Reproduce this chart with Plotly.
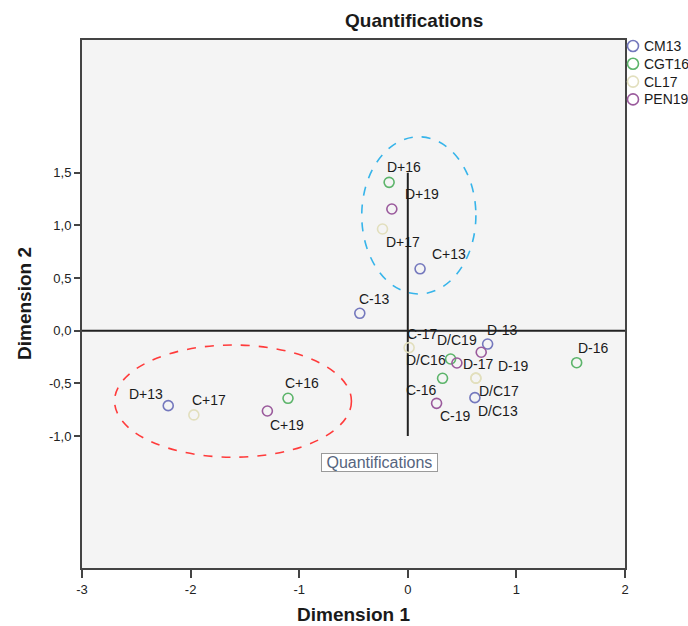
import plotly.graph_objects as go

# ---------------- data ----------------
series_names = ["CM13", "CGT16", "CL17", "PEN19"]

cm13_labels = ["D+13", "C+13", "C-13", "D-13", "D/C13"]
cm13_x = [-2.206, 0.113, -0.442, 0.735, 0.618]
cm13_y = [-0.712, 0.588, 0.165, -0.127, -0.636]

cgt16_labels = ["D+16", "C+16", "D-16", "C-16", "D/C16"]
cgt16_x = [-0.172, -1.103, 1.555, 0.320, 0.394]
cgt16_y = [1.409, -0.642, -0.304, -0.452, -0.269]

cl17_labels = ["D+17", "C+17", "C-17", "D-17", "D/C17"]
cl17_x = [-0.233, -1.970, 0.012, 0.627, 0.627]
cl17_y = [0.966, -0.800, -0.161, -0.451, -0.451]

pen19_labels = ["D+19", "C+19", "C-19", "D-19", "D/C19"]
pen19_x = [-0.147, -1.293, 0.265, 0.452, 0.676]
pen19_y = [1.156, -0.763, -0.690, -0.307, -0.205]

x_ticks = [-3, -2, -1, 0, 1, 2]
x_tick_text = ["-3", "-2", "-1", "0", "1", "2"]
y_ticks = [-1.0, -0.5, 0.0, 0.5, 1.0, 1.5]
y_tick_text = ["-1,0", "-0,5", "0,0", "0,5", "1,0", "1,5"]

x_range = [-3, 2]
y_range = [-2.254, 2.761]

# reference axes drawn inside the plot
vline_x = 0.0
vline_y = [-1.0, 1.5]
hline_y = 0.0

# highlighted groups (ellipses): x0, x1, y0, y1
blue_group = [-0.424, 0.627, 0.349, 1.842]
red_group = [-2.700, -0.519, -1.202, -0.136]

box_label = "Quantifications"
box_pos = [-0.261, -1.253]

# ---------------- styles ----------------
colors = {"CM13": "#7478bd", "CGT16": "#5cb46a", "CL17": "#e2dfbd", "PEN19": "#9a5a9c"}

# pixel offsets of the point labels (dx right, dy down)
label_offsets = {
    "D+16": (15, -15), "D+19": (30, -15), "D+17": (20, 13), "C+13": (29, -15),
    "C-13": (15, -14), "D+13": (-22, -12), "C+17": (15, -15), "C+16": (14, -15),
    "C+19": (20, 14), "C-17": (13, -14), "D-13": (15, -14), "D/C19": (-24, -12),
    "D/C16": (-25, 1), "D-19": (57, 3), "D-17": (3, -14), "D/C17": (23, 13),
    "C-16": (-21, 12), "D/C13": (23, 13), "C-19": (19, 13), "D-16": (17, -15),
}

FONT = "Liberation Sans, Arial, sans-serif"
NARROW = "Liberation Sans Narrow, Arial Narrow, Liberation Sans, sans-serif"
TXT = "#1a1a1a"

W, H = 688, 626
PL, PR, PT, PB = 82, 625, 40, 568  # plot area in window pixels

# legend layout (window pixels)
LEG_SYMBOL_X = 633
LEG_TEXT_X = 642
LEG_TOP_Y = 46
LEG_STEP = 17.8


def px_x(px):
    return (px - PL) / (PR - PL)


def px_y(py):
    return (PB - py) / (PB - PT)


fig = go.Figure()

all_series = [
    ("CM13", cm13_x, cm13_y, cm13_labels),
    ("CGT16", cgt16_x, cgt16_y, cgt16_labels),
    ("CL17", cl17_x, cl17_y, cl17_labels),
    ("PEN19", pen19_x, pen19_y, pen19_labels),
]

annotations = []
for name, xs, ys, labs in all_series:
    fig.add_trace(go.Scatter(
        x=xs, y=ys, mode="markers", name=name, text=labs, showlegend=False,
        marker=dict(symbol="circle-open", size=10, color=colors[name],
                    line=dict(width=1.6, color=colors[name])),
        hoverinfo="text+x+y",
    ))
    for lx, ly, lt in zip(xs, ys, labs):
        dx, dy = label_offsets[lt]
        annotations.append(dict(
            x=lx, y=ly, xref="x", yref="y", text=lt, showarrow=False,
            xshift=dx, yshift=-dy, font=dict(family=FONT, size=14, color=TXT),
        ))

shapes = [
    dict(type="line", xref="paper", yref="y", x0=0, x1=1, y0=hline_y, y1=hline_y,
         line=dict(color="#222222", width=2), layer="below"),
    dict(type="line", xref="x", yref="y", x0=vline_x, x1=vline_x, y0=vline_y[0], y1=vline_y[1],
         line=dict(color="#222222", width=2), layer="below"),
    dict(type="circle", xref="x", yref="y", x0=blue_group[0], x1=blue_group[1],
         y0=blue_group[2], y1=blue_group[3], line=dict(color="#36b4ea", width=1.6, dash="dash")),
    dict(type="circle", xref="x", yref="y", x0=red_group[0], x1=red_group[1],
         y0=red_group[2], y1=red_group[3], line=dict(color="#ff3b3b", width=1.6, dash="dash")),
]

# legend (symbols + names) to the right of the frame
for i, name in enumerate(series_names):
    cy = LEG_TOP_Y + i * LEG_STEP
    shapes.append(dict(type="circle", xref="paper", yref="paper",
                       xsizemode="pixel", ysizemode="pixel",
                       xanchor=px_x(LEG_SYMBOL_X), yanchor=px_y(cy),
                       x0=-5.5, x1=5.5, y0=-5.5, y1=5.5,
                       line=dict(color=colors[name], width=1.6)))
    annotations.append(dict(x=px_x(LEG_TEXT_X), y=px_y(cy), xref="paper", yref="paper",
                            text=name, showarrow=False, xanchor="left", yanchor="middle",
                            font=dict(family=NARROW, size=14, color=TXT)))

annotations.append(dict(
    x=box_pos[0], y=box_pos[1], xref="x", yref="y", text="&nbsp;" + box_label + "&nbsp;",
    showarrow=False, font=dict(family=FONT, size=16, color="#56657e"), bgcolor="white",
    bordercolor="#9a9a9a", borderwidth=1, borderpad=0,
))

# title and axis titles
annotations.append(dict(x=px_x(414), y=px_y(20.7), xref="paper", yref="paper",
                        text="<b>Quantifications</b>", showarrow=False,
                        font=dict(family=FONT, size=19, color=TXT),
                        xanchor="center", yanchor="middle"))
annotations.append(dict(x=0.5, y=px_y(614), xref="paper", yref="paper",
                        text="<b>Dimension 1</b>", showarrow=False,
                        font=dict(family=FONT, size=19, color=TXT),
                        xanchor="center", yanchor="middle"))
annotations.append(dict(x=px_x(24), y=0.5, xref="paper", yref="paper",
                        text="<b>Dimension 2</b>", showarrow=False, textangle=-90,
                        font=dict(family=FONT, size=19, color=TXT),
                        xanchor="center", yanchor="middle"))

fig.update_layout(
    width=W, height=H,
    margin=dict(l=PL, r=W - PR, t=PT, b=H - PB, autoexpand=False),
    paper_bgcolor="white", plot_bgcolor="#f4f4f4",
    showlegend=False,
    shapes=shapes, annotations=annotations,
    font=dict(family=FONT),
)
fig.update_xaxes(range=x_range, tickvals=x_ticks, ticktext=x_tick_text, showgrid=False,
                 zeroline=False, showline=True, linecolor="#444444", linewidth=2, mirror=True,
                 ticks="outside", ticklen=8, tickwidth=2, tickcolor="#444444",
                 tickfont=dict(family=FONT, size=13, color="#222222"))
fig.update_yaxes(range=y_range, tickvals=y_ticks, ticktext=y_tick_text, showgrid=False,
                 zeroline=False, showline=True, linecolor="#444444", linewidth=2, mirror=True,
                 ticks="outside", ticklen=6, tickwidth=2, tickcolor="#444444",
                 tickfont=dict(family=FONT, size=13, color="#222222"))

fig.write_html("out.html", config={"displayModeBar": False},
               post_script="document.body.style.margin='0';document.body.style.overflow='hidden';")
